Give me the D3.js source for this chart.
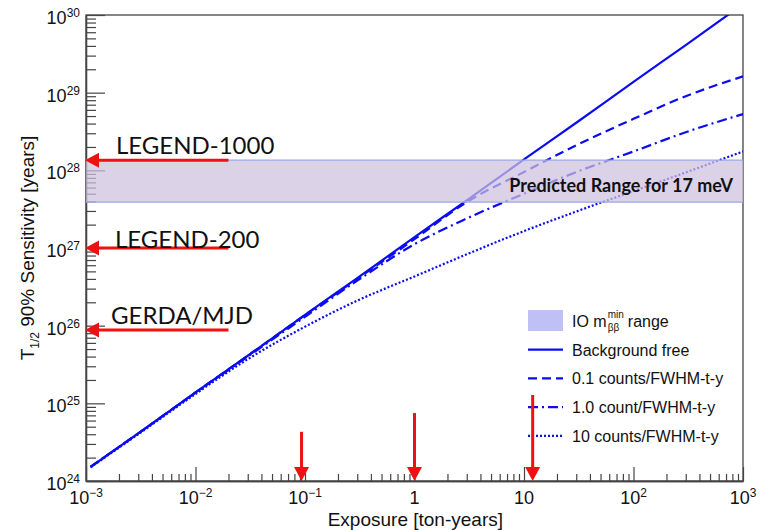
<!DOCTYPE html>
<html>
<head>
<meta charset="utf-8">
<script src="https://cdn.jsdelivr.net/npm/d3@7"></script>
<style>
  body { margin: 0; background: #fff; }
  text { font-family: "Liberation Sans", Arial, sans-serif; fill: #111; }
  .anno { font-family: Lato, "Open Sans", sans-serif; }
</style>
</head>
<body>
<div id="container"></div>
<script>
// exposure in ton-years, sensitivity in years
const exposure = [0.0011, 0.003, 0.01, 0.03, 0.1, 0.3, 1, 3, 10, 30, 100, 300, 1000];
const bgFree = [1.52e24, 4.1e24, 1.38e25, 4.1e25, 1.38e26, 4.1e26, 1.38e27, 4.1e27, 1.38e28, 4.1e28, 1.38e29, 4.1e29, 1.38e30];
const bg01 = [1.52e24, 4.1e24, 1.38e25, 4.1e25, 1.37e26, 4.0e26, 1.3e27, 3.9e27, 9.5e27, 2.1e28, 4.6e28, 9.0e28, 1.62e29];
const bg1 = [1.52e24, 4.1e24, 1.37e25, 4.0e25, 1.3e26, 3.8e26, 1.12e27, 2.4e27, 5.0e27, 9.5e27, 1.75e28, 3.1e28, 5.3e28];
const bg10 = [1.5e24, 4.0e24, 1.32e25, 3.7e25, 9.7e25, 2.1e26, 4.3e26, 8.3e26, 1.65e27, 2.95e27, 5.4e27, 9.4e27, 1.75e28];

const seriesNames = ["Background free", "0.1 counts/FWHM-t-y", "1.0 count/FWHM-t-y", "10 counts/FWHM-t-y"];
const seriesDash = ["", "9,5", "10,4,2,4", "2,2"];

// predicted range band (IO)
const bandRange = [3.9e27, 1.35e28];

// experiments pointing at the y axis
const expLabels = ["LEGEND-1000", "LEGEND-200", "GERDA/MJD"];
const expValues = [1.35e28, 1.0e27, 8.8e25];
const arrowEndExposure = 0.02;

// arrows pointing at the x axis
const exposureMarks = [0.093, 1, 12];
const exposureMarkTops = [4.3e24, 7.5e24, 1.28e25];

const xTickVals = [1e-3, 1e-2, 1e-1, 1, 10, 100, 1000];
const xTickBase = ["10", "10", "10", "1", "10", "10", "10"];
const xTickExp = ["\u22123", "\u22122", "\u22121", "", "", "2", "3"];
const yTickVals = [1e24, 1e25, 1e26, 1e27, 1e28, 1e29, 1e30];
const yTickExp = ["24", "25", "26", "27", "28", "29", "30"];

const W = 765, H = 530;
const pLeft = 86, pRight = 743, pTop = 15, pBottom = 481;

const svg = d3.select("#container").append("svg")
  .attr("width", W).attr("height", H);

const x = d3.scaleLog().domain([1e-3, 1e3]).range([pLeft, pRight]);
const y = d3.scaleLog().domain([1e24, 1e30]).range([pBottom, pTop]);

svg.append("clipPath").attr("id", "plot-clip")
  .append("rect").attr("x", pLeft).attr("y", pTop)
  .attr("width", pRight - pLeft).attr("height", pBottom - pTop);

// minor tick values
const minorX = [], minorY = [];
for (let d = -3; d < 3; d++) for (let k = 2; k < 10; k++) minorX.push(k * Math.pow(10, d));
for (let d = 24; d < 30; d++) for (let k = 2; k < 10; k++) minorY.push(k * Math.pow(10, d));

// frame
svg.append("rect")
  .attr("x", pLeft).attr("y", pTop)
  .attr("width", pRight - pLeft).attr("height", pBottom - pTop)
  .attr("fill", "none").attr("stroke", "#444").attr("stroke-width", 1.3);

// curves
const line = d3.line()
  .x(d => x(d[0]))
  .y(d => y(d[1]))
  .curve(d3.curveMonotoneX);

const allSeries = [bgFree, bg01, bg1, bg10];
const curves = svg.append("g").attr("clip-path", "url(#plot-clip)");
allSeries.forEach((s, i) => {
  curves.append("path")
    .datum(exposure.map((e, j) => [e, s[j]]))
    .attr("d", line)
    .attr("fill", "none")
    .attr("stroke", "#0c0cf0")
    .attr("stroke-width", 2.2)
    .attr("stroke-dasharray", seriesDash[i]);
});

// axes (ticks inside)
const axX = svg.append("g").attr("transform", `translate(0,${pBottom})`);
axX.append("g").call(d3.axisBottom(x).tickValues(minorX).tickSize(-7).tickSizeOuter(0).tickFormat(""));
axX.append("g").call(d3.axisBottom(x).tickValues(xTickVals).tickSize(-14).tickSizeOuter(0).tickFormat(""));
const axY = svg.append("g").attr("transform", `translate(${pLeft},0)`);
axY.append("g").call(d3.axisLeft(y).tickValues(minorY).tickSize(-10).tickSizeOuter(0).tickFormat(""));
axY.append("g").call(d3.axisLeft(y).tickValues(yTickVals).tickSize(-19).tickSizeOuter(0).tickFormat(""));
svg.selectAll(".domain").attr("stroke", "#444").attr("stroke-width", 1.3);
svg.selectAll(".tick line").attr("stroke", "#444").attr("stroke-width", 1.2);

// tick labels
xTickVals.forEach((v, i) => {
  const t = svg.append("text")
    .attr("x", x(v)).attr("y", pBottom + 23)
    .attr("text-anchor", "middle")
    .style("font-size", "18px");
  t.append("tspan").text(xTickBase[i]);
  if (xTickExp[i]) t.append("tspan").attr("dy", -7).style("font-size", "12px").text(xTickExp[i]);
});
yTickVals.forEach((v, i) => {
  const t = svg.append("text")
    .attr("x", 80).attr("y", y(v) + 9)
    .attr("text-anchor", "end")
    .style("font-size", "18px");
  t.append("tspan").text("10");
  t.append("tspan").attr("dy", -7).style("font-size", "12px").text(yTickExp[i]);
});

// axis titles
svg.append("text")
  .attr("x", 503).attr("y", 526)
  .attr("text-anchor", "end")
  .style("font-size", "19px")
  .text("Exposure [ton-years]");

const yt = svg.append("text")
  .attr("transform", `translate(34,${(pTop + pBottom) / 2}) rotate(-90)`)
  .attr("text-anchor", "middle")
  .style("font-size", "19px");
yt.append("tspan").text("T");
yt.append("tspan").attr("dy", 5).style("font-size", "12px").text("1/2");
yt.append("tspan").attr("dy", -5).text(" 90% Sensitivity [years]");

// predicted range band, drawn over the curves
svg.append("rect")
  .attr("x", pLeft).attr("y", y(bandRange[1]))
  .attr("width", pRight - pLeft)
  .attr("height", y(bandRange[0]) - y(bandRange[1]))
  .attr("fill", "rgb(207,193,223)").attr("fill-opacity", 0.72);
bandRange.forEach(v => {
  svg.append("line")
    .attr("x1", pLeft).attr("x2", pRight)
    .attr("y1", y(v)).attr("y2", y(v))
    .attr("stroke", "#9aa8e8").attr("stroke-width", 1.3);
});
svg.append("text")
  .attr("class", "anno")
  .attr("x", 733).attr("y", 192)
  .attr("text-anchor", "end")
  .style("font-size", "18px").style("font-weight", "bold")
  .text("Predicted Range for 17 meV");

// legend
const legX = 528, legY0 = 321, legStep = 28.7;
svg.append("rect")
  .attr("x", legX).attr("y", legY0 - 11)
  .attr("width", 35).attr("height", 21)
  .attr("fill", "#bfc0f5");
const io = svg.append("g").style("font-size", "16px");
const t1 = io.append("text").attr("x", 572).attr("y", legY0 + 6).text("IO m");
const w1 = t1.node().getComputedTextLength();
const t2 = io.append("text").attr("x", 572 + w1 + 1).attr("y", legY0 - 3).style("font-size", "10px").text("min");
io.append("text").attr("x", 572 + w1 + 1).attr("y", legY0 + 10).style("font-size", "10px").text("\u03b2\u03b2");
const w2 = t2.node().getComputedTextLength();
io.append("text").attr("x", 572 + w1 + w2 + 5).attr("y", legY0 + 6).text("range");

seriesNames.forEach((name, i) => {
  const ly = legY0 + legStep * (i + 1);
  svg.append("line")
    .attr("x1", legX).attr("x2", legX + 35)
    .attr("y1", ly).attr("y2", ly)
    .attr("stroke", "#0c0cf0").attr("stroke-width", 2.2)
    .attr("stroke-dasharray", seriesDash[i]);
  svg.append("text")
    .attr("x", 572).attr("y", ly + 6)
    .style("font-size", "16px")
    .text(name);
});

// red arrows
const red = "#ee1111";
expValues.forEach((v, i) => {
  const yy = y(v);
  const tip = x(1e-3) - 1;
  svg.append("line")
    .attr("x1", tip + 10).attr("x2", x(arrowEndExposure))
    .attr("y1", yy).attr("y2", yy)
    .attr("stroke", red).attr("stroke-width", 3);
  svg.append("path")
    .attr("d", `M${tip},${yy} L${tip + 14},${yy - 7.5} L${tip + 14},${yy + 7.5} Z`)
    .attr("fill", red);
  svg.append("text")
    .attr("class", "anno")
    .attr("x", [116, 115, 111][i]).attr("y", yy - [6, 0, 6][i])
    .style("font-size", "24px")
    .text(expLabels[i]);
});

exposureMarks.forEach((e, i) => {
  const xx = x(e);
  svg.append("line")
    .attr("x1", xx).attr("x2", xx)
    .attr("y1", y(exposureMarkTops[i])).attr("y2", pBottom - 10)
    .attr("stroke", red).attr("stroke-width", 3);
  svg.append("path")
    .attr("d", `M${xx},${pBottom} L${xx - 7.5},${pBottom - 14} L${xx + 7.5},${pBottom - 14} Z`)
    .attr("fill", red);
});
</script>
</body>
</html>
